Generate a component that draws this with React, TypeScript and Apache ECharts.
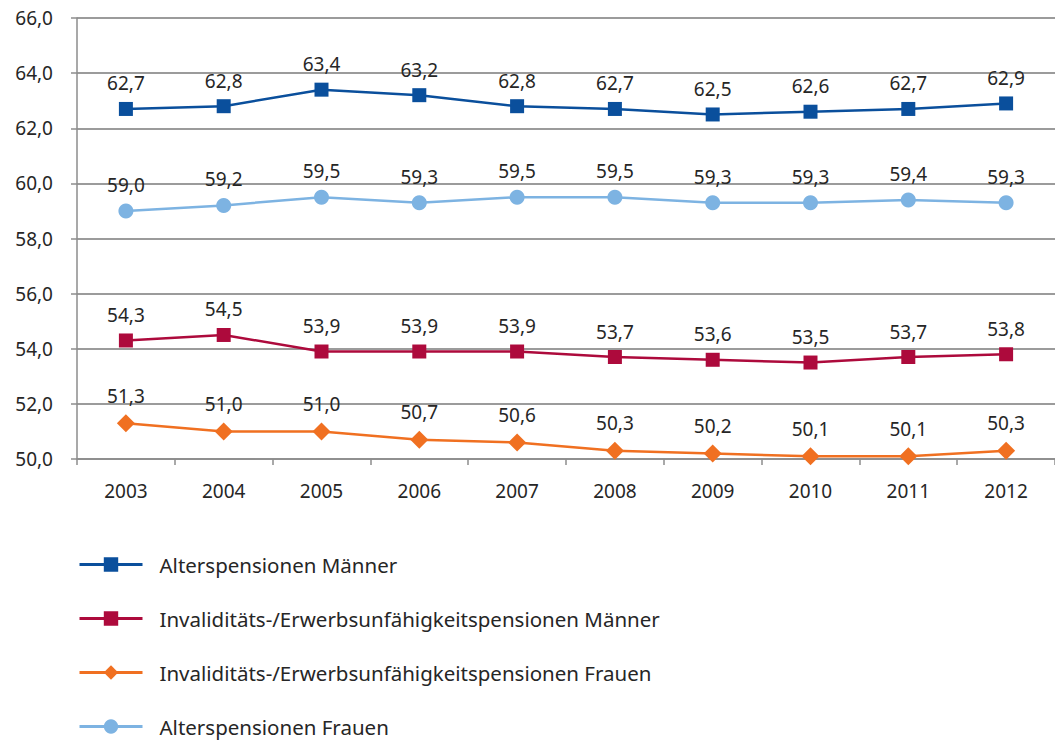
import React, { useEffect, useRef } from "react";
import * as echarts from "echarts";

const years = ["2003", "2004", "2005", "2006", "2007", "2008", "2009", "2010", "2011", "2012"];
const altersMaenner = [62.7, 62.8, 63.4, 63.2, 62.8, 62.7, 62.5, 62.6, 62.7, 62.9];
const altersFrauen = [59.0, 59.2, 59.5, 59.3, 59.5, 59.5, 59.3, 59.3, 59.4, 59.3];
const invMaenner = [54.3, 54.5, 53.9, 53.9, 53.9, 53.7, 53.6, 53.5, 53.7, 53.8];
const invFrauen = [51.3, 51.0, 51.0, 50.7, 50.6, 50.3, 50.2, 50.1, 50.1, 50.3];

const names = [
  "Alterspensionen Männer",
  "Invaliditäts-/Erwerbsunfähigkeitspensionen Männer",
  "Invaliditäts-/Erwerbsunfähigkeitspensionen Frauen",
  "Alterspensionen Frauen",
];

const FONT = "'Noto Sans', sans-serif";
const TXT = "#262626";
const fmt = (v: number) => v.toFixed(1).replace(".", ",");

export default function App() {
  const ref = useRef<HTMLDivElement>(null);
  useEffect(() => {
    if (!ref.current) return;
    const chart = echarts.init(ref.current, null, { renderer: "svg" });
    const mk = (name: string, data: number[], color: string, symbol: string, size: number) => ({
      name,
      type: "line",
      data,
      symbol,
      symbolSize: size,
      showAllSymbol: true,
      itemStyle: { color },
      lineStyle: { color, width: 2.5 },
      label: {
        show: true,
        position: "top",
        distance: 9,
        color: TXT,
        fontSize: 19,
        fontFamily: FONT,
        formatter: (p: any) => fmt(p.value),
      },
    });
    chart.setOption({
      animation: false,
      textStyle: { fontFamily: FONT },
      grid: { left: 77, right: -5, top: 18, height: 441 },
      xAxis: {
        type: "category",
        data: years,
        boundaryGap: true,
        axisLine: { lineStyle: { color: "#8c8c8c", width: 1.5 } },
        axisTick: { show: true, length: 6, lineStyle: { color: "#8c8c8c", width: 1.5 } },
        axisLabel: { color: TXT, fontSize: 19, fontFamily: FONT, margin: 22 },
      },
      yAxis: {
        type: "value",
        min: 50,
        max: 66,
        interval: 2,
        axisLine: { show: true, lineStyle: { color: "#8c8c8c", width: 1.5 } },
        axisTick: { show: true, length: 6, lineStyle: { color: "#8c8c8c", width: 1.5 } },
        splitLine: { lineStyle: { color: "#7a7a7a", width: 1.5 } },
        axisLabel: { color: TXT, fontSize: 19, fontFamily: FONT, margin: 24, formatter: (v: number) => fmt(v) },
      },
      legend: {
        orient: "vertical",
        left: 78,
        top: 554,
        height: 200,
        padding: 0,
        itemWidth: 63,
        itemHeight: 18,
        itemGap: 33,
        lineStyle: { width: 3 },
        textStyle: { color: TXT, fontSize: 20.5, fontFamily: FONT, padding: [0, 0, 0, 12] },
        data: names,
      },
      series: [
        mk(names[0], altersMaenner, "#0a4f9c", "rect", 14),
        mk(names[1], invMaenner, "#ad0a3c", "rect", 14),
        mk(names[2], invFrauen, "#f07021", "diamond", 18),
        mk(names[3], altersFrauen, "#7db3e2", "circle", 15),
      ],
    });
    return () => chart.dispose();
  }, []);
  return <div ref={ref} style={{ position: "absolute", left: 0, top: 0, width: 1055, height: 740 }} />;
}
